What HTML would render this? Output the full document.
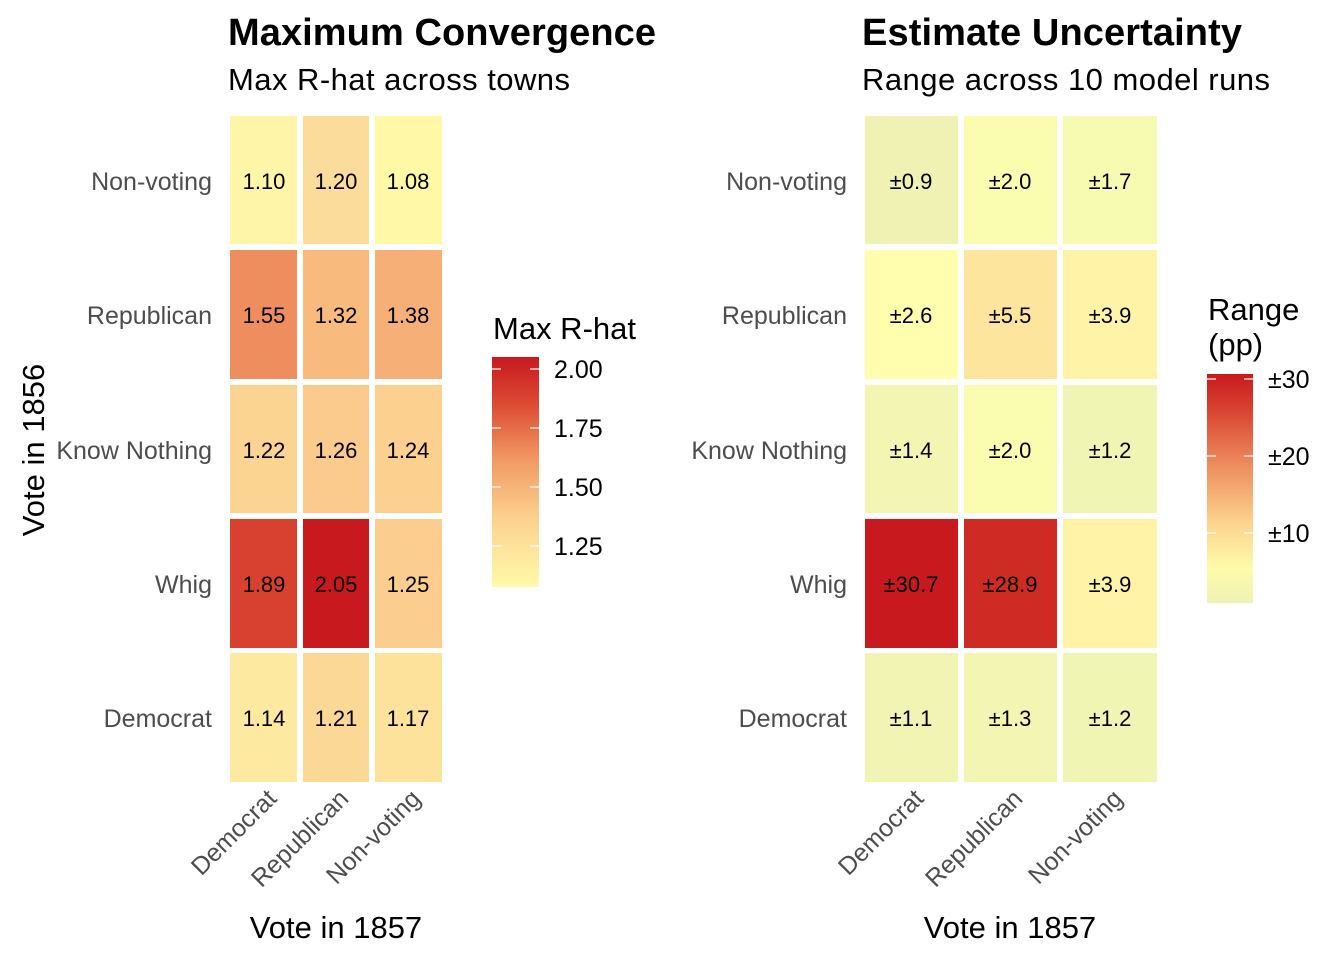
<!DOCTYPE html>
<html><head><meta charset="utf-8"><style>body{margin:0;background:#fff}svg{display:block;font-family:"Liberation Sans",Arial,sans-serif}</style></head><body>
<svg width="1344" height="960" xmlns="http://www.w3.org/2000/svg">
<defs>
<linearGradient id="g1" x1="0" y1="1" x2="0" y2="0">
<stop offset="0" stop-color="#FFFAAA"/><stop offset="0.3" stop-color="#FCD18F"/><stop offset="0.55" stop-color="#F29A64"/><stop offset="0.8" stop-color="#DC4932"/><stop offset="1" stop-color="#C8191E"/></linearGradient>
<linearGradient id="g2" x1="0" y1="1" x2="0" y2="0">
<stop offset="0" stop-color="#EEF2B3"/><stop offset="0.15" stop-color="#FEFBAA"/><stop offset="0.35" stop-color="#FCD38F"/><stop offset="0.6" stop-color="#EE8D5E"/><stop offset="0.85" stop-color="#D84130"/><stop offset="1" stop-color="#C8191E"/></linearGradient>
</defs>
<g font-size="38" font-weight="bold" fill="#000"><text x="228" y="45" textLength="428">Maximum Convergence</text><text x="862" y="45" textLength="380">Estimate Uncertainty</text></g>
<g font-size="31" fill="#000"><text x="228" y="90" textLength="342">Max R-hat across towns</text><text x="862" y="90" textLength="408">Range across 10 model runs</text></g>
<g>
<rect x="230" y="116" width="67" height="128" fill="#FEF5A9"/><rect x="303" y="116" width="66" height="128" fill="#FCDC9A"/><rect x="375" y="116" width="67" height="128" fill="#FFF8A6"/>
<rect x="230" y="250" width="67" height="129" fill="#EE8D5E"/><rect x="303" y="250" width="66" height="129" fill="#F8BA7D"/><rect x="375" y="250" width="67" height="129" fill="#F6B077"/>
<rect x="230" y="385" width="67" height="128" fill="#FCD492"/><rect x="303" y="385" width="66" height="128" fill="#FBCB8D"/><rect x="375" y="385" width="67" height="128" fill="#FCD18F"/>
<rect x="230" y="519" width="67" height="129" fill="#D84130"/><rect x="303" y="519" width="66" height="129" fill="#C8191E"/><rect x="375" y="519" width="67" height="129" fill="#FBCD8E"/>
<rect x="230" y="653" width="67" height="129" fill="#FEE9A0"/><rect x="303" y="653" width="66" height="129" fill="#FCD896"/><rect x="375" y="653" width="67" height="129" fill="#FDE29C"/>
</g>
<g font-size="22" fill="#000" text-anchor="middle">
<text x="264" y="189">1.10</text><text x="336" y="189">1.20</text><text x="408" y="189">1.08</text>
<text x="264" y="323">1.55</text><text x="336" y="323">1.32</text><text x="408" y="323">1.38</text>
<text x="264" y="458">1.22</text><text x="336" y="458">1.26</text><text x="408" y="458">1.24</text>
<text x="264" y="592">1.89</text><text x="336" y="592">2.05</text><text x="408" y="592">1.25</text>
<text x="264" y="726">1.14</text><text x="336" y="726">1.21</text><text x="408" y="726">1.17</text>
</g>
<g>
<rect x="865" y="116" width="93" height="128" fill="#EFF2B3"/><rect x="964" y="116" width="93" height="128" fill="#FAFDB0"/><rect x="1063" y="116" width="94" height="128" fill="#F7FAB1"/>
<rect x="865" y="250" width="93" height="129" fill="#FEFEAE"/><rect x="964" y="250" width="93" height="129" fill="#FDE59D"/><rect x="1063" y="250" width="94" height="129" fill="#FEF3A6"/>
<rect x="865" y="385" width="93" height="128" fill="#F3F6B2"/><rect x="964" y="385" width="93" height="128" fill="#FAFCAF"/><rect x="1063" y="385" width="94" height="128" fill="#F1F5B3"/>
<rect x="865" y="519" width="93" height="129" fill="#C8191E"/><rect x="964" y="519" width="93" height="129" fill="#CF2A24"/><rect x="1063" y="519" width="94" height="129" fill="#FEF3A6"/>
<rect x="865" y="653" width="93" height="129" fill="#F1F4B3"/><rect x="964" y="653" width="93" height="129" fill="#F3F6B2"/><rect x="1063" y="653" width="94" height="129" fill="#F1F5B3"/>
</g>
<g font-size="22" fill="#000" text-anchor="middle">
<text x="911" y="189">±0.9</text><text x="1010" y="189">±2.0</text><text x="1110" y="189">±1.7</text>
<text x="911" y="323">±2.6</text><text x="1010" y="323">±5.5</text><text x="1110" y="323">±3.9</text>
<text x="911" y="458">±1.4</text><text x="1010" y="458">±2.0</text><text x="1110" y="458">±1.2</text>
<text x="911" y="592">±30.7</text><text x="1010" y="592">±28.9</text><text x="1110" y="592">±3.9</text>
<text x="911" y="726">±1.1</text><text x="1010" y="726">±1.3</text><text x="1110" y="726">±1.2</text>
</g>
<g font-size="25" fill="#4d4d4d" text-anchor="end">
<text x="212" y="190">Non-voting</text><text x="212" y="324">Republican</text><text x="212" y="459">Know Nothing</text><text x="212" y="593">Whig</text><text x="212" y="727">Democrat</text>
<text x="847" y="190">Non-voting</text><text x="847" y="324">Republican</text><text x="847" y="459">Know Nothing</text><text x="847" y="593">Whig</text><text x="847" y="727">Democrat</text>
</g>
<g font-size="25" fill="#4d4d4d" text-anchor="end">
<text transform="translate(278,800) rotate(-45)">Democrat</text>
<text transform="translate(350,800) rotate(-45)">Republican</text>
<text transform="translate(422,800) rotate(-45)">Non-voting</text>
<text transform="translate(925,800) rotate(-45)">Democrat</text>
<text transform="translate(1024,800) rotate(-45)">Republican</text>
<text transform="translate(1124,800) rotate(-45)">Non-voting</text>
</g>
<g font-size="31" fill="#000" text-anchor="middle">
<text x="336" y="938">Vote in 1857</text><text x="1010" y="938">Vote in 1857</text>
<text transform="translate(44,450) rotate(-90)">Vote in 1856</text>
</g>
<text x="493" y="339" font-size="31" fill="#000">Max R-hat</text>
<rect x="492" y="357" width="47" height="230" fill="url(#g1)"/>
<g stroke="#fff" stroke-width="1.2"><line x1="492" y1="369" x2="501" y2="369"/><line x1="530" y1="369" x2="539" y2="369"/><line x1="492" y1="428" x2="501" y2="428"/><line x1="530" y1="428" x2="539" y2="428"/><line x1="492" y1="487" x2="501" y2="487"/><line x1="530" y1="487" x2="539" y2="487"/><line x1="492" y1="546" x2="501" y2="546"/><line x1="530" y1="546" x2="539" y2="546"/></g>
<g font-size="25" fill="#000"><text x="554" y="378">2.00</text><text x="554" y="437">1.75</text><text x="554" y="496">1.50</text><text x="554" y="555">1.25</text></g>
<text x="1208" y="320" font-size="31" fill="#000">Range</text><text x="1208" y="355" font-size="31" fill="#000">(pp)</text>
<rect x="1207" y="374" width="46" height="229" fill="url(#g2)"/>
<g stroke="#fff" stroke-width="1.2"><line x1="1207" y1="379" x2="1216" y2="379"/><line x1="1244" y1="379" x2="1253" y2="379"/><line x1="1207" y1="456" x2="1216" y2="456"/><line x1="1244" y1="456" x2="1253" y2="456"/><line x1="1207" y1="533" x2="1216" y2="533"/><line x1="1244" y1="533" x2="1253" y2="533"/></g>
<g font-size="25" fill="#000"><text x="1268" y="388">±30</text><text x="1268" y="465">±20</text><text x="1268" y="542">±10</text></g>
</svg>
</body></html>
